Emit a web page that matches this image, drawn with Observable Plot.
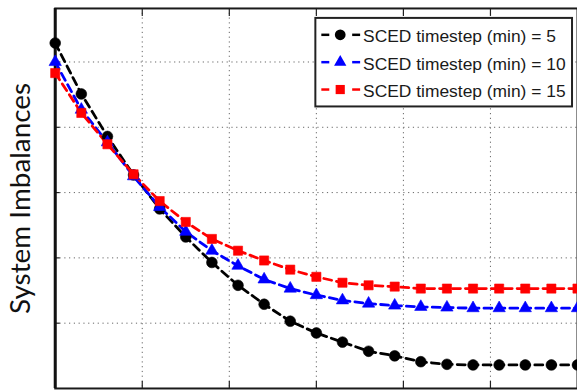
<!DOCTYPE html>
<html>
<head>
<meta charset="utf-8">
<script src="https://cdn.jsdelivr.net/npm/d3@7"></script>
<script src="https://cdn.jsdelivr.net/npm/@observablehq/plot@0.6"></script>
<style>
  html, body { margin: 0; padding: 0; background: #fff; overflow: hidden; }
  #chart { position: relative; width: 577px; height: 390px; overflow: hidden; }
  #chart svg { display: block; }
</style>
</head>
<body>
<div id="chart"></div>
<script>
// SCED timestep settings (minutes), one series each
const timesteps = ["5", "10", "15"];

// Horizontal positions of the samples
const xs = [0, 0.3, 0.6, 0.9, 1.2, 1.5, 1.8, 2.1, 2.4, 2.7, 3.0,
            3.3, 3.6, 3.9, 4.2, 4.5, 4.8, 5.1, 5.4, 5.7, 6.0];

// System imbalance per series
const imb5  = [5.29, 4.51, 3.86, 3.27, 2.75, 2.32, 1.93, 1.58, 1.29, 1.03, 0.85,
               0.71, 0.57, 0.50, 0.41, 0.37, 0.36, 0.36, 0.36, 0.36, 0.36];
const imb10 = [5.00, 4.27, 3.77, 3.25, 2.78, 2.40, 2.11, 1.88, 1.67, 1.53, 1.43,
               1.35, 1.30, 1.27, 1.25, 1.24, 1.23, 1.23, 1.23, 1.23, 1.23];
const imb15 = [4.83, 4.22, 3.74, 3.28, 2.87, 2.55, 2.29, 2.11, 1.96, 1.82, 1.71,
               1.62, 1.58, 1.56, 1.53, 1.53, 1.53, 1.53, 1.53, 1.53, 1.53];

// Grid / tick positions (no tick labels are shown)
const xTicks = [1, 2, 3, 4, 5];
const yTicks = [1, 2, 3, 4, 5];

const yLabel = "System Imbalances";
const legendLabels = timesteps.map(t => `SCED timestep (min) = ${t}`);
const colors = ["#000000", "#0000ff", "#ff0000"];
const symbols = ["circle", "triangle", "square"];
const markerR = [5.4, 4.6, 5.2];

const seriesValues = [imb5, imb10, imb15];
const rows = seriesValues.flatMap((vals, s) =>
  vals.map((v, i) => ({x: xs[i], y: v, series: timesteps[s]})));

const gridStyle = {stroke: "#666", strokeOpacity: 1, strokeWidth: 1, strokeDasharray: "1.2,3.6"};
const blank = () => "";

const plot = Plot.plot({
  width: 580,
  height: 392,
  marginLeft: 55,
  marginRight: 0,
  marginTop: 8,
  marginBottom: 2,
  x: {domain: [0, 6], axis: null},
  y: {domain: [0, 5.82], axis: null},
  color: {domain: timesteps, range: colors},
  symbol: {domain: timesteps, range: symbols},
  marks: [
    Plot.gridX(xTicks, gridStyle),
    Plot.gridY(yTicks, gridStyle),
    Plot.axisY(yTicks, {anchor: "left", tickSize: -5, tickFormat: blank, label: null, stroke: "#222", strokeWidth: 1.2}),
    Plot.axisX(xTicks, {anchor: "top", tickSize: -7, tickFormat: blank, label: null, stroke: "#222", strokeWidth: 1.2}),
    Plot.axisX(xTicks, {anchor: "bottom", tickSize: -7, tickFormat: blank, label: null, stroke: "#222", strokeWidth: 1.2}),
    Plot.frame({stroke: "#1a1a1a", strokeWidth: 2}),
    Plot.ruleX([0], {stroke: "#111", strokeWidth: 3}),
    Plot.line(rows, {x: "x", y: "y", z: "series", stroke: "series", strokeWidth: 2.8, strokeDasharray: "8,5"}),
    ...timesteps.map((t, s) =>
      Plot.dot(rows.filter(d => d.series === t), {
        x: "x", y: "y", symbol: "series", fill: "series", stroke: "series",
        strokeWidth: 0.6, r: markerR[s]
      })),
    Plot.text([yLabel], {
      frameAnchor: "left", textAnchor: "middle", rotate: -90, dx: -25, lineAnchor: "bottom",
      fontSize: 28, fontFamily: "Lato, 'Open Sans', sans-serif", fill: "#111"
    })
  ]
});

// Legend box, top right inside the axes
const svg = d3.select(plot);
const lg = svg.append("g").attr("class", "legend").attr("text-anchor", "start");
lg.append("rect")
  .attr("x", 317).attr("y", 18).attr("width", 258).attr("height", 89)
  .attr("fill", "#fff").attr("stroke", "#222").attr("stroke-width", 2);
legendLabels.forEach((label, i) => {
  const cy = 35 + i * 27.5;
  const row = lg.append("g");
  [[323, 331], [354, 362]].forEach(([a, b]) =>
    row.append("line").attr("x1", a).attr("x2", b).attr("y1", cy).attr("y2", cy)
      .attr("stroke", colors[i]).attr("stroke-width", 2.5));
  const sym = [d3.symbolCircle, d3.symbolTriangle, d3.symbolSquare][i];
  const size = Math.PI * markerR[i] * markerR[i];
  row.append("path")
    .attr("d", d3.symbol(sym, size)())
    .attr("transform", `translate(342,${cy})`)
    .attr("fill", colors[i]);
  row.append("text")
    .attr("x", 365).attr("y", cy + 7.5)
    .attr("text-anchor", "start")
    .attr("font-family", "'Liberation Sans', Arial, sans-serif")
    .attr("font-size", 17.5)
    .attr("fill", "#1a1a1a")
    .text(label);
});

document.getElementById("chart").appendChild(plot);
</script>
</body>
</html>
